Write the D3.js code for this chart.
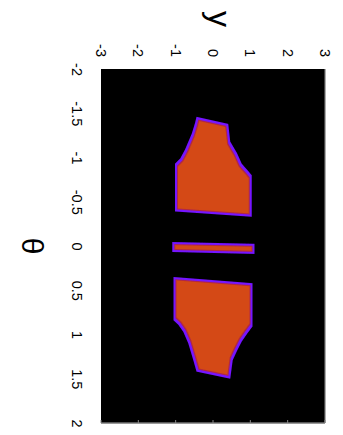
<!DOCTYPE html>
<html>
<head>
<meta charset="utf-8">
<script src="https://cdn.jsdelivr.net/npm/d3@7"></script>
<style>
  body { margin: 0; background: #fff; }
  svg { display: block; font-family: "Liberation Sans", Arial, sans-serif; }
</style>
</head>
<body>
<div id="chart"></div>
<script>

// outlines of the non-zero regions as [theta, y]
var upperLobe = [
    [-1.46, -0.44], [-1.38, 0.41], [-1.18, 0.46], [-1.05, 0.64], [-0.93, 0.77],
    [-0.86, 0.92], [-0.80, 1.04], [-0.33, 1.04], [-0.39, -1.02], [-0.93, -1.02],
    [-0.99, -0.88], [-1.09, -0.75], [-1.27, -0.57], [-1.39, -0.48]
];
var centreStrip = [
    [-0.045, -1.09], [-0.025, 1.11], [0.090, 1.11], [0.068, -1.09]
];
var lowerLobe = [
    [0.35, -1.06], [0.42, 1.06], [0.91, 1.06], [0.99, 0.92], [1.08, 0.77],
    [1.18, 0.65], [1.29, 0.53], [1.50, 0.46], [1.42, -0.44], [1.29, -0.53],
    [1.10, -0.66], [0.97, -0.80], [0.89, -0.93], [0.84, -1.06]
];

var thetaTicks = [-2, -1.5, -1, -0.5, 0, 0.5, 1, 1.5, 2];
var yTicks = [-3, -2, -1, 0, 1, 2, 3];

// the figure is drawn as a normal plot and then turned 90 deg clockwise
var width = 354,
    height = 224;

var x = d3.scaleLinear().domain([-2, 2]).range([0, width]),
    y = d3.scaleLinear().domain([-3, 3]).range([height, 0]);

var svg = d3.select("#chart").append("svg")
    .attr("width", 343)
    .attr("height", 435);

var defs = svg.append("defs");

defs.append("filter").attr("id", "soft")
    .append("feGaussianBlur").attr("stdDeviation", 0.6);

var mid = defs.append("filter").attr("id", "shrink1");
mid.append("feMorphology").attr("operator", "erode").attr("radius", 1.8);
mid.append("feGaussianBlur").attr("stdDeviation", 0.5);

var core = defs.append("filter").attr("id", "shrink2");
core.append("feMorphology").attr("operator", "erode").attr("radius", 2.7);
core.append("feGaussianBlur").attr("stdDeviation", 0.5);

var plot = svg.append("g")
    .attr("transform", "translate(325,69) rotate(90)");

plot.append("rect")
    .attr("width", width)
    .attr("height", height)
    .attr("fill", "#000");

var line = d3.line()
    .x(function(d) { return x(d[0]); })
    .y(function(d) { return y(d[1]); })
    .curve(d3.curveLinearClosed);

var regions = [upperLobe, centreStrip, lowerLobe];

var layers = [
    {fill: "#7412ff", filter: "url(#soft)"},
    {fill: "#b0264a", filter: "url(#shrink1)"},
    {fill: "#d44a12", filter: "url(#shrink2)"}
];

layers.forEach(function(l) {
    plot.append("g")
        .attr("filter", l.filter)
        .selectAll("path")
        .data(regions)
        .enter().append("path")
        .attr("d", line)
        .attr("fill", l.fill);
});

// box edges that show over the image (original top and right)
plot.append("line")
    .attr("x1", 0).attr("x2", width)
    .attr("y1", 0).attr("y2", 0)
    .attr("stroke", "#777").attr("stroke-width", 1.2);
plot.append("line")
    .attr("x1", width).attr("x2", width)
    .attr("y1", 0).attr("y2", height)
    .attr("stroke", "#777").attr("stroke-width", 1.5);
plot.append("g")
    .selectAll("line")
    .data(yTicks)
    .enter().append("line")
    .attr("x1", width).attr("x2", width - 3)
    .attr("y1", function(d) { return y(d); })
    .attr("y2", function(d) { return y(d); })
    .attr("stroke", "#888");

var xAxis = d3.axisBottom(x)
    .tickValues(thetaTicks)
    .tickSize(0)
    .tickPadding(19)
    .tickFormat(function(d) { return String(d); });

var yAxis = d3.axisLeft(y)
    .tickValues(yTicks)
    .tickSize(0)
    .tickPadding(12)
    .tickFormat(function(d) { return String(d); });

var gx = plot.append("g")
    .attr("transform", "translate(0," + height + ")")
    .call(xAxis);
var gy = plot.append("g").call(yAxis);

[gx, gy].forEach(function(g) {
    g.select(".domain").remove();
    g.selectAll("text")
        .attr("fill", "#000")
        .style("font-size", "14.5px")
        .style("font-family", "'Liberation Sans', Arial, sans-serif");
});

plot.append("text")
    .attr("x", width / 2)
    .attr("y", height + 69)
    .attr("text-anchor", "middle")
    .attr("dominant-baseline", "central")
    .style("font-size", "30px")
    .text("θ");

plot.append("text")
    .attr("x", -50)
    .attr("y", height / 2 - 7)
    .attr("text-anchor", "middle")
    .attr("dominant-baseline", "central")
    .style("font-size", "32px")
    .text("y");

</script>
</body>
</html>
